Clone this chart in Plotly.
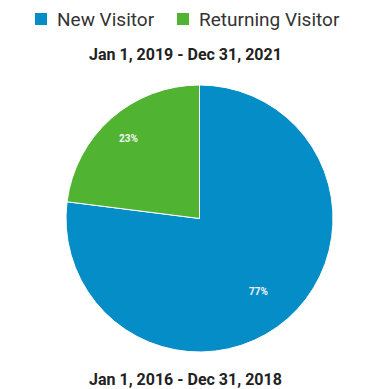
import plotly.graph_objects as go
import math

labels = ["New Visitor", "Returning Visitor"]
values = [77, 23]
colors = ["#058DC7", "#50B432"]
title_top = "Jan 1, 2019 - Dec 31, 2021"
title_bottom = "Jan 1, 2016 - Dec 31, 2018"

W, H = 370, 389
dom_x = [66 / W, 333 / W]
dom_y = [1 - 352 / H, 1 - 85 / H]

fig = go.Figure(go.Pie(
    labels=labels, values=values, sort=False, direction="clockwise", rotation=0,
    marker=dict(colors=colors, line=dict(color="white", width=1)),
    textinfo="none", hoverinfo="label+percent",
    domain=dict(x=dom_x, y=dom_y),
    showlegend=False,
))

# percent labels placed at 0.8 of radius along each slice's mid-angle
cx = (dom_x[0] + dom_x[1]) / 2
cy = (dom_y[0] + dom_y[1]) / 2
rx = (dom_x[1] - dom_x[0]) / 2
ry = (dom_y[1] - dom_y[0]) / 2
total = sum(values)
cum = 0
anns = []
for v in values:
    mid = (cum + v / 2) / total * 2 * math.pi
    cum += v
    anns.append(dict(
        x=cx + 0.8 * rx * math.sin(mid), y=cy + 0.8 * ry * math.cos(mid),
        xref="paper", yref="paper", showarrow=False,
        text=f"<b>{round(v / total * 100)}%</b>",
        font=dict(family="Roboto", size=10, color="#f4f4f4"),
    ))

anns.append(dict(x=0.5, y=1 - 54 / H, xref="paper", yref="paper", showarrow=False,
                 xanchor="center", yanchor="middle",
                 text=f"<b>{title_top}</b>", font=dict(family="Roboto", size=16, color="#222")))
anns.append(dict(x=0.5, y=1 - 379 / H, xref="paper", yref="paper", showarrow=False,
                 xanchor="center", yanchor="middle",
                 text=f"<b>{title_bottom}</b>", font=dict(family="Roboto", size=16, color="#222")))

# legend (drawn as layout shapes + text)
legend_sq_x = [35, 177]
shapes = []
for lab, col, sx in zip(labels, colors, legend_sq_x):
    shapes.append(dict(type="rect", xref="paper", yref="paper",
                       x0=sx / W, x1=(sx + 12) / W, y0=1 - 25 / H, y1=1 - 13 / H,
                       fillcolor=col, line=dict(width=0)))
    anns.append(dict(x=(sx + 20) / W, y=1 - 19.5 / H, xref="paper", yref="paper",
                     showarrow=False, xanchor="left", yanchor="middle", text=lab,
                     font=dict(family="Roboto", size=19, color="#333")))

fig.update_layout(
    width=W, height=H, margin=dict(l=0, r=0, t=0, b=0),
    paper_bgcolor="white", plot_bgcolor="white",
    showlegend=False,
    annotations=anns, shapes=shapes,
)
fig.write_html("out.html")
